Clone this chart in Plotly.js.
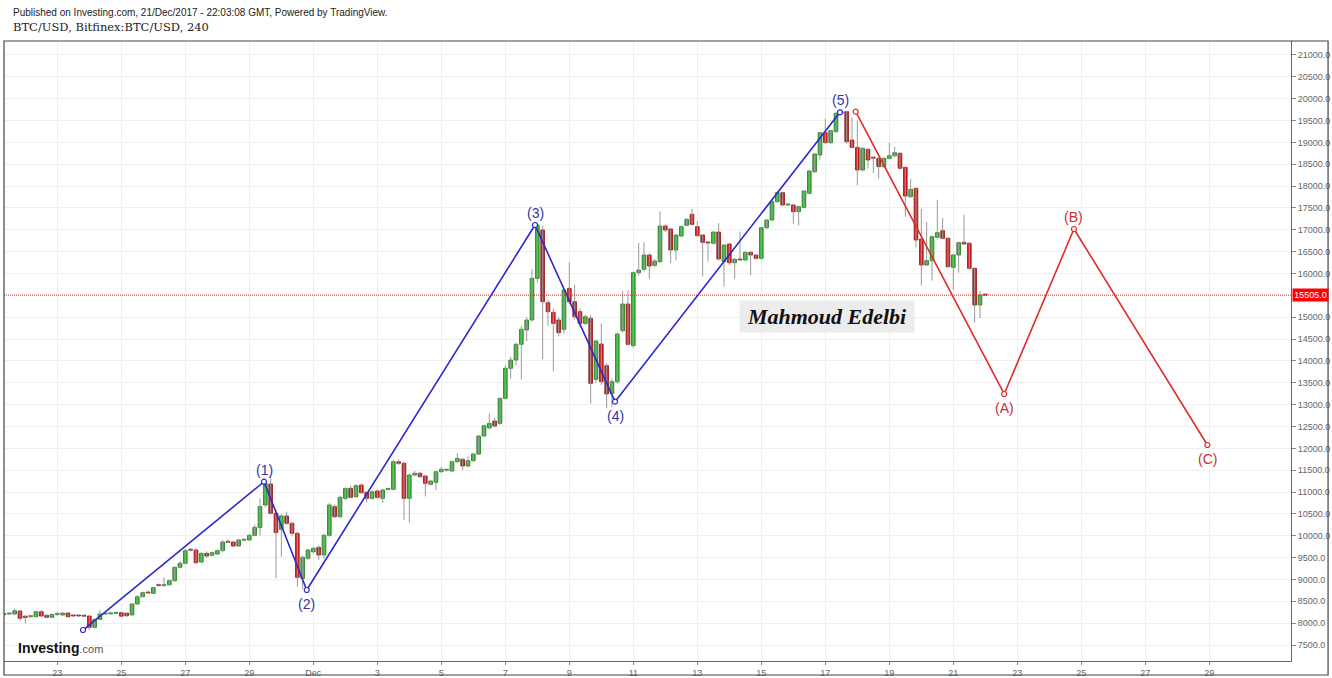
<!DOCTYPE html>
<html>
<head>
<meta charset="utf-8">
<script src="https://cdn.plot.ly/plotly-3.0.1.min.js"></script>
<style>
  html, body { margin: 0; padding: 0; background: #fff; }
  #chart { width: 1332px; height: 678px; }
</style>
</head>
<body>
<div id="chart"></div>
<script>
// ---- Data (BTC/USD Bitfinex, 4H candles, first candle 2017-11-21 08:00) ----
const candleStart = '2017-11-21T08:00:00Z';
const candleHours = 4;

const opens = [
  8200,8210,8210,8278,8160,8150,8149,8263,8180,8135,
  8200,8187,8233,8185,8180,8165,8164,7905,8088,8210,
  8215,8225,8240,8230,8190,8439,8606,8710,8683,8880,
  8860,8880,8973,9278,9370,9690,9675,9400,9598,9553,
  9583,9659,9870,9858,9766,9900,9904,10010,10190,10704,
  11185,10514,10147,10453,10285,10056,9026,9484,9636,9736,
  9560,10010,10666,10437,10856,11085,10895,11161,10994,10856,
  11024,10856,11060,11062,11695,11657,10856,11390,11430,11367,
  11176,11222,11466,11500,11482,11695,11749,11596,11718,11871,
  12283,12466,12626,12572,13144,13831,14021,14380,14708,14937,
  15890,16996,15333,15112,14937,14723,15661,15356,15127,14860,
  14975,13579,14388,13892,13259,13526,14692,15303,14350,16020,
  16096,16424,16187,16271,17087,17019,16538,16858,17102,17354,
  17072,16881,16720,16691,16950,16271,16676,16248,16332,16310,
  16485,16424,16347,17049,17225,17644,17850,17568,17568,17415,
  17514,17835,18330,18712,19223,18994,19246,19665,19703,19055,
  18887,18368,18841,18650,18635,18445,18635,18696,18750,18430,
  17758,17949,16790,16195,16294,16828,16980,16805,16142,16424,
  16714,16691,16119,15280,15530
];
const highs = [
  8240,8250,8340,8300,8180,8185,8286,8300,8200,8220,
  8255,8250,8250,8200,8195,8180,8175,8100,8301,8240,
  8245,8260,8265,8250,8460,8640,8720,8740,8840,8910,
  9049,9000,9300,9420,9700,9720,9720,9620,9640,9640,
  9690,9900,9920,9880,9930,9940,10040,10250,10857,11260,
  11380,10600,10500,10552,10320,10100,9550,9700,9750,9780,
  10050,10750,10720,10920,11100,11150,11180,11200,11020,11040,
  11060,11080,11100,11730,11750,11700,11430,11480,11460,11400,
  11280,11490,11580,11540,11720,11890,11780,11820,11900,12300,
  12540,12800,12700,13160,13900,14100,14420,14800,15000,16100,
  17150,17100,15400,15200,15000,15650,16260,15740,15200,15060,
  15050,14480,14860,13950,13600,14650,15600,15620,16050,16700,
  16714,16460,16330,17420,17120,17050,16900,17100,17260,17480,
  17200,16900,16740,16970,17150,16680,16700,16350,16960,16510,
  16510,16440,17070,17250,17670,17880,17870,17620,17590,17550,
  17900,18370,18760,19240,19540,19290,19700,19750,19720,19570,
  19500,18890,18860,18680,18660,18660,18990,18900,18780,18450,
  18170,17970,17480,17180,16870,17690,17270,16830,16450,16730,
  17340,16720,16140,15600,15540
];
const lows = [
  8170,8190,8190,8057,7996,8120,8130,8150,8110,8120,
  8165,8170,8130,8150,8150,8140,7840,7880,8070,8190,
  8195,8205,8140,8140,8170,8420,8590,8670,8670,8840,
  8840,8860,8950,9250,9350,9640,9350,9370,9500,9530,
  9560,9640,9830,9740,9750,9870,9880,9990,10000,10650,
  10480,9026,9522,10250,10000,8836,8780,9450,9600,9450,
  9470,9980,10400,10400,10820,10850,10870,10960,10760,10830,
  10850,10750,11030,11040,11620,10360,10300,11360,11330,10900,
  11150,11040,11440,11470,11460,11670,11500,11560,11700,11850,
  12260,12440,12480,12540,13120,13600,13900,13580,14450,14900,
  15800,14040,14800,13760,14560,14620,15300,14950,14780,14820,
  13025,13500,13450,12920,12950,13480,14650,14350,14300,15950,
  16050,15880,16150,16240,16950,16240,16300,16830,17080,17100,
  16840,15930,16280,16660,16300,15700,16200,15880,16290,16280,
  15960,16320,16320,17020,17200,17620,17540,17540,17140,17100,
  17490,17810,18300,18600,18970,18960,19220,19640,18970,18860,
  18020,18340,18400,18300,18170,18420,18610,18670,18380,17300,
  17730,16600,15730,16170,15840,16800,16780,16130,15620,16020,
  16650,16090,14880,14980,15490
];
const closes = [
  8215,8225,8285,8111,8130,8160,8263,8164,8135,8200,
  8210,8233,8149,8165,8165,8160,7905,8088,8210,8215,
  8220,8235,8160,8170,8439,8606,8698,8690,8813,8860,
  8875,8973,9278,9370,9659,9670,9385,9598,9537,9614,
  9659,9858,9850,9766,9904,9910,10010,10193,10666,11200,
  10514,10071,10453,10285,10056,9049,9507,9675,9713,9560,
  10010,10704,10437,10879,11085,10879,11146,10986,10856,11008,
  10879,11047,11070,11695,11657,10856,11390,11430,11352,11199,
  11253,11466,11520,11505,11695,11772,11596,11718,11871,12283,
  12519,12572,12511,13144,13831,14021,14380,14723,14937,15890,
  17110,15356,15127,14860,14647,15623,15356,15013,14860,15013,
  13488,14456,13526,13244,13526,14616,15303,14380,16020,16081,
  16424,16172,16286,17087,16996,16538,16881,17072,17240,17125,
  16866,16714,16700,16950,16332,16652,16248,16325,16310,16485,
  16424,16347,17049,17225,17644,17850,17568,17585,17415,17530,
  17888,18346,18735,19223,18994,19269,19665,19703,19017,18887,
  18368,18864,18597,18640,18445,18635,18696,18765,18407,17773,
  17926,16767,16195,16294,16843,16935,16805,16157,16424,16706,
  16676,16119,15280,15508,15505
];

const lastPrice = 15505;

// Elliott impulse wave (blue) and projected correction (red)
const waveX = ['2017-11-23 19:16','2017-11-29 11:01','2017-11-30 19:03','2017-12-07 22:16','2017-12-10 10:16','2017-12-17 11:01'];
const waveY = [7844, 11237, 8759, 17110, 13068, 19689];
const waveLabels = ['', '(1)', '(2)', '(3)', '(4)', '(5)'];
const corrX = ['2017-12-17 22:48','2017-12-22 14:10','2017-12-24 18:29','2017-12-28 22:33'];
const corrY = [19703, 13244, 17019, 12077];
const corrLabels = ['', '(A)', '(B)', '(C)'];

const tickDates = ['2017-11-23','2017-11-25','2017-11-27','2017-11-29','2017-12-01','2017-12-03','2017-12-05','2017-12-07','2017-12-09','2017-12-11','2017-12-13','2017-12-15','2017-12-17','2017-12-19','2017-12-21','2017-12-23','2017-12-25','2017-12-27','2017-12-29'];
const tickLabels = ['23','25','27','29','Dec','3','5','7','9','11','13','15','17','19','21','23','25','27','29'];
// price ticks (15500 is hidden under the last-price tag in the reference)
const priceTicks = [7500,8000,8500,9000,9500,10000,10500,11000,11500,12000,12500,13000,13500,14000,14500,15000,16000,16500,17000,17500,18000,18500,19000,19500,20000,20500,21000];

// ---- Build traces ----
const t0 = Date.parse(candleStart);
const stepMs = candleHours * 3600 * 1000;
const times = opens.map((_, i) => new Date(t0 + i * stepMs).toISOString().slice(0, 19).replace('T', ' '));

const wickX = [], wickY = [];
times.forEach((t, i) => { wickX.push(t, t, null); wickY.push(lows[i], highs[i], null); });

const up = opens.map((o, i) => closes[i] >= o);
const bodyBase = opens.map((o, i) => Math.min(o, closes[i]));
const bodyH = opens.map((o, i) => Math.max(Math.abs(closes[i] - o), 22));

const GREEN = '#3cb83c', GREEN_L = '#207a20', RED = '#d42424', RED_L = '#8e1515';
const BLUE = '#2a2acb', RED_W = '#e22b2b';

const traces = [
  { type: 'scatter', mode: 'lines', x: wickX, y: wickY, line: { color: '#9a9a9a', width: 1 }, hoverinfo: 'skip' },
  { type: 'bar', x: times, y: bodyH, base: bodyBase, width: 10000000,
    marker: { color: up.map(u => u ? GREEN : RED), line: { color: up.map(u => u ? GREEN_L : RED_L), width: 0.8 } },
    hoverinfo: 'skip' },
  { type: 'scatter', mode: 'lines+markers', x: waveX, y: waveY,
    line: { color: BLUE, width: 1.6 },
    marker: { symbol: 'circle', size: 5, color: '#ffffff', line: { color: BLUE, width: 1.2 } }, hoverinfo: 'skip' },
  { type: 'scatter', mode: 'lines+markers', x: corrX, y: corrY,
    line: { color: RED_W, width: 1.6 },
    marker: { symbol: 'circle', size: 5, color: '#ffffff', line: { color: RED_W, width: 1.2 } }, hoverinfo: 'skip' }
];

const annotations = [];
function waveAnn(xs, ys, labels, color) {
  labels.forEach((lab, i) => {
    if (!lab) return;
    const peak = ys[i] > ys[i - 1];
    annotations.push({ x: xs[i], y: ys[i], xref: 'x', yref: 'y', text: lab, showarrow: false,
      yshift: peak ? 12 : -14, font: { family: 'Liberation Sans, Arial, sans-serif', size: 14, color: color } });
  });
}
waveAnn(waveX, waveY, waveLabels, '#3434a8');
waveAnn(corrX, corrY, corrLabels, '#c83030');

annotations.push(
  { xref: 'paper', yref: 'paper', x: 0.0054, y: 1.046, xanchor: 'left', yanchor: 'middle', showarrow: false,
    text: 'Published on Investing.com, 21/Dec/2017 - 22:03:08 GMT, Powered by TradingView.',
    font: { family: 'Liberation Sans, Arial, sans-serif', size: 10, color: '#222' } },
  { xref: 'paper', yref: 'paper', x: 0.0054, y: 1.022, xanchor: 'left', yanchor: 'middle', showarrow: false,
    text: 'BTC/USD, Bitfinex:BTC/USD, 240',
    font: { family: 'DejaVu Serif, serif', size: 11.5, color: '#222' } },
  { xref: 'paper', yref: 'y', x: 1, y: lastPrice, xanchor: 'left', yanchor: 'middle', showarrow: false,
    text: lastPrice.toFixed(1), bgcolor: '#ff0000', borderpad: 1, width: 33, xshift: 1,
    font: { family: 'Liberation Sans, Arial, sans-serif', size: 9, color: '#ffffff' } },
  { xref: 'paper', yref: 'paper', x: 0.6391, y: 0.5553, xanchor: 'center', yanchor: 'middle', showarrow: false,
    text: '<b><i>Mahmoud Edelbi</i></b>', bgcolor: '#ececec', borderpad: 2, width: 170, height: 27,
    font: { family: 'Liberation Serif, Times New Roman, serif', size: 22, color: '#111' } },
  { xref: 'paper', yref: 'paper', x: 0.0093, y: 0.021, xanchor: 'left', yanchor: 'middle', showarrow: false,
    text: '<b>Investing</b><span style="font-size:11px;color:#555">.com</span>',
    font: { family: 'Liberation Sans, Arial, sans-serif', size: 14, color: '#111' } }
);

const layout = {
  width: 1332, height: 678,
  margin: { l: 4, r: 41, t: 41, b: 17 },
  paper_bgcolor: '#ffffff', plot_bgcolor: '#ffffff',
  showlegend: false, hovermode: false, bargap: 0,
  font: { family: 'Liberation Sans, Arial, sans-serif', size: 9, color: '#555' },
  xaxis: {
    type: 'date', range: ['2017-11-21 08:00', '2017-12-31 13:16'],
    tickmode: 'array', tickvals: tickDates, ticktext: tickLabels,
    ticks: 'outside', ticklen: 3, tickcolor: '#888', tickfont: { size: 9, color: '#666' },
    showgrid: true, gridcolor: '#efefef', gridwidth: 1,
    showline: true, linecolor: '#666', linewidth: 1, zeroline: false, fixedrange: true
  },
  yaxis: {
    side: 'right', range: [7135, 21320], tickmode: 'array', tickvals: priceTicks, tickformat: '.1f',
    ticks: 'outside', ticklen: 4, tickcolor: '#888', tickfont: { size: 9, color: '#666' },
    showgrid: true, gridcolor: '#efefef', gridwidth: 1,
    showline: true, linecolor: '#666', linewidth: 1, zeroline: false, fixedrange: true
  },
  shapes: [
    { type: 'line', xref: 'paper', yref: 'y', x0: 0, x1: 1, y0: lastPrice, y1: lastPrice,
      line: { color: '#ee2020', width: 1, dash: '1px,1px' } },
    { type: 'rect', xref: 'paper', yref: 'paper', x0: 0, x1: 1.0288, y0: -0.0226, y1: 1,
      line: { color: '#444', width: 1.2 }, fillcolor: 'rgba(0,0,0,0)' }
  ],
  annotations: annotations
};

Plotly.newPlot('chart', traces, layout, { displayModeBar: false, staticPlot: true });
</script>
</body>
</html>
